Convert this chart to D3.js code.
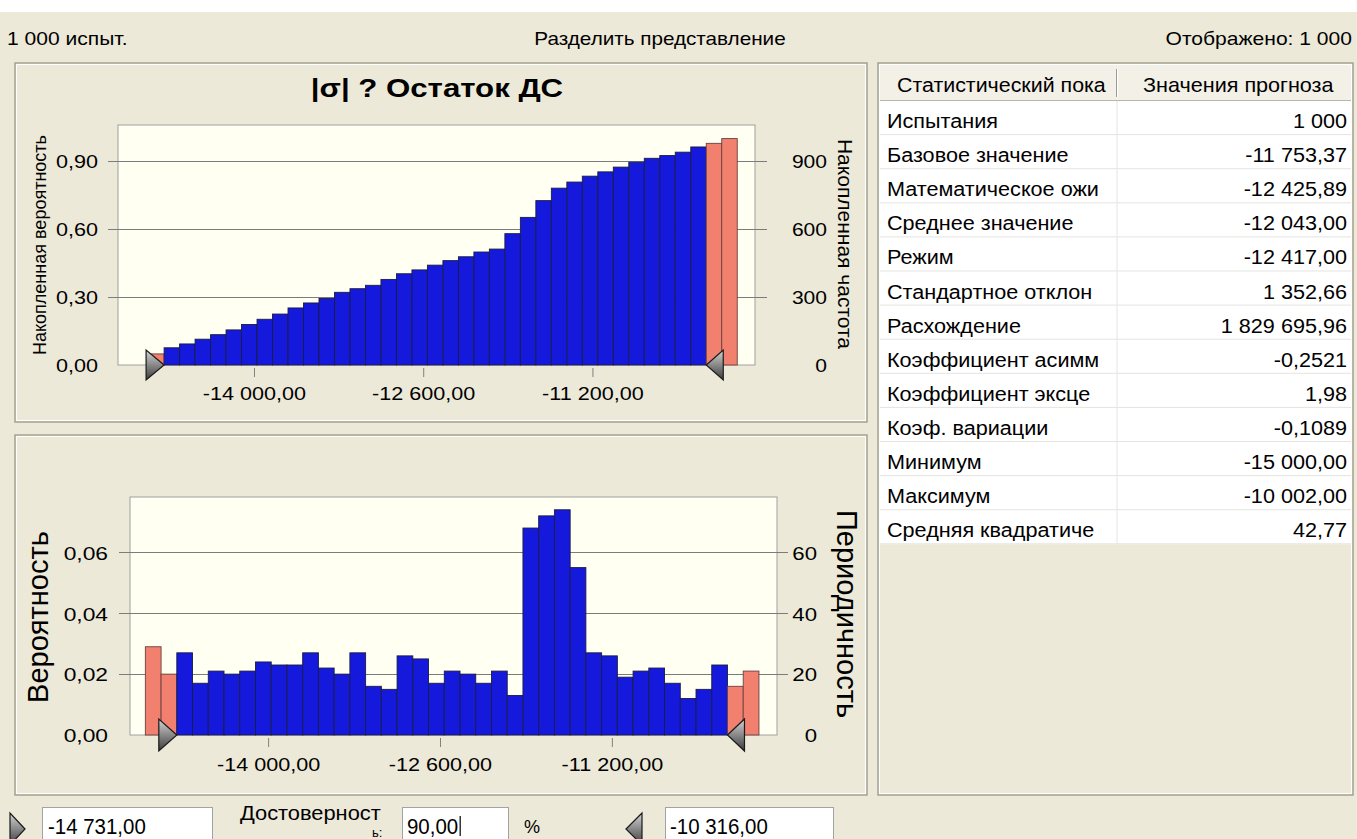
<!DOCTYPE html>
<html>
<head>
<meta charset="utf-8">
<script src="https://cdn.jsdelivr.net/npm/d3@7"></script>
<style>
    html, body { margin: 0; padding: 0; background: #ECE9D8; }
    svg { display: block; }
    text { font-family: "Liberation Sans", Arial, sans-serif; fill: #000; }
</style>
</head>
<body>
<svg id="chart" width="1357" height="839"></svg>
<script>
/*global d3*/
(function () {
    "use strict";

    // ---- data ----
    var trials = 1000;
    var valueMin = -15000,
        valueMax = -10002;
    // frequency per bin (39 bins from min to max)
    var freq = [29, 20, 27, 17, 21, 20, 21, 24, 23, 23, 27, 22, 20, 27, 16, 15, 26, 25, 17,
                21, 20, 17, 21, 13, 68, 72, 74, 55, 27, 26, 19, 21, 22, 17, 12, 15, 23, 16, 21];
    var xTicks = [-14000, -12600, -11200];
    var cumProbTicks = [0, 0.3, 0.6, 0.9];
    var cumCountTicks = [0, 300, 600, 900];
    var probTicks = [0, 0.02, 0.04, 0.06];
    var countTicks = [0, 20, 40, 60];
    var leftCut = -14731,
        rightCut = -10316,
        certainty = 90;

    var statNames = ["Испытания", "Базовое значение", "Математическое ожи", "Среднее значение",
                     "Режим", "Стандартное отклон", "Расхождение", "Коэффициент асимм",
                     "Коэффициент эксце", "Коэф. вариации", "Минимум", "Максимум",
                     "Средняя квадратиче"];
    var statValues = [1000, -11753.37, -12425.89, -12043.00, -12417.00, 1352.66, 1829695.96,
                      -0.2521, 1.98, -0.1089, -15000.00, -10002.00, 42.77];
    var statDigits = [0, 2, 2, 2, 2, 2, 2, 4, 2, 4, 2, 2, 2];

    var title = "|σ| ? Остаток ДС";

    // ---- formatting (russian number style) ----
    var ru = d3.formatLocale({decimal: ",", thousands: "\u00a0", grouping: [3], currency: ["", ""], minus: "-"});
    var fmtX = ru.format(",.2f"),
        fmtP = ru.format(".2f"),
        fmtN = ru.format(",d");

    var FONT = "'Liberation Sans', Arial, sans-serif";
    var BLUE = "#1419DC",
        RED = "#F2806E",
        PLOT_BG = "#FFFFF2",
        GRID = "#7c7c7c";

    var svg = d3.select("#chart");
    svg.append("rect").attr("width", 1357).attr("height", 839).attr("fill", "#ECE9D8");
    svg.append("rect").attr("width", 1357).attr("height", 12).attr("fill", "#ffffff");

    var defs = svg.append("defs");
    var grad = defs.append("linearGradient").attr("id", "triGrad")
        .attr("x1", 0).attr("y1", 0).attr("x2", 0).attr("y2", 1);
    grad.append("stop").attr("offset", "0%").attr("stop-color", "#d4d4d4");
    grad.append("stop").attr("offset", "100%").attr("stop-color", "#3c3c3c");

    function label(parent, x, y, str, o) {
        o = o || {};
        var tr = "translate(" + x + "," + y + ")";
        if (o.rotate) { tr += " rotate(" + o.rotate + ")"; }
        if (o.sx) { tr += " scale(" + o.sx + ",1)"; }
        return parent.append("text")
            .attr("transform", tr)
            .attr("text-anchor", o.anchor || "start")
            .style("font-size", (o.size || 18) + "px")
            .style("font-weight", o.weight || null)
            .text(str);
    }

    function frame(x, y, w, h) {
        svg.append("rect").attr("x", x).attr("y", y).attr("width", w).attr("height", h)
            .attr("fill", "none").attr("stroke", "#a5a293").attr("stroke-width", 1.5);
        svg.append("rect").attr("x", x + 1.5).attr("y", y + 1.5).attr("width", w - 3).attr("height", h - 3)
            .attr("fill", "none").attr("stroke", "#ffffff").attr("stroke-width", 1);
    }

    // triangle marker: dir 1 points right (tip on the left cut), -1 points left
    function marker(parent, tipX, baseY, dir, w, h) {
        var pts = [[tipX, baseY], [tipX - dir * w, baseY - h / 2], [tipX - dir * w, baseY + h / 2]];
        parent.append("path")
            .attr("d", "M" + pts.join("L") + "Z")
            .attr("fill", "url(#triGrad)")
            .attr("stroke", "#1a1a1a")
            .attr("stroke-width", 1.2);
    }

    function styleTicks(axisG, size) {
        axisG.attr("font-size", null).attr("font-family", null);
        axisG.selectAll(".tick text")
            .style("font-size", size + "px")
            .style("font-family", FONT)
            .attr("fill", "#000");
    }

    // ---- bins ----
    var binWidth = (valueMax - valueMin) / freq.length;
    var cum = d3.cumsum(freq);
    var leftEdge = Math.round((leftCut - valueMin) / binWidth),
        rightEdge = Math.round((rightCut - valueMin) / binWidth);
    var bins = freq.map(function (f, i) {
        return {
            i: i,
            x0: valueMin + i * binWidth,
            x1: valueMin + (i + 1) * binWidth,
            prob: f / trials,
            cumProb: cum[i] / trials,
            out: i < leftEdge || i >= rightEdge
        };
    });
    var xDomain = [-15125, -9855];

    // ---- header ----
    label(svg, 7, 45, fmtN(trials) + " испыт.", {size: 18, sx: 1.17});
    label(svg, 660, 45, "Разделить представление", {size: 18, sx: 1.15, anchor: "middle"});
    label(svg, 1352, 45, "Отображено: " + fmtN(trials), {size: 18, sx: 1.17, anchor: "end"});

    frame(15, 63, 852, 359);
    frame(15, 435, 852, 360);

    label(svg, 437, 97, title, {size: 26, sx: 1.2, anchor: "middle", weight: "bold"});

    function drawChart(c) {
        var g = svg.append("g");
        var x = d3.scaleLinear().domain(xDomain).range([c.left, c.right]);
        var y = d3.scaleLinear().domain([0, c.yMax]).range([c.bottom, c.top]);
        var y2 = d3.scaleLinear().domain([0, c.yMax * trials]).range([c.bottom, c.top]);

        g.append("rect")
            .attr("x", c.left).attr("y", c.top)
            .attr("width", c.right - c.left).attr("height", c.bottom - c.top)
            .attr("fill", PLOT_BG).attr("stroke", "#a0a0a0");

        g.selectAll("line.grid")
            .data(c.leftTicks.filter(function (d) { return d > 0; }))
            .join("line")
            .attr("class", "grid")
            .attr("x1", c.left - c.gridOut[0]).attr("x2", c.right + c.gridOut[1])
            .attr("y1", function (d) { return Math.round(y(d)) + 0.5; })
            .attr("y2", function (d) { return Math.round(y(d)) + 0.5; })
            .attr("stroke", GRID);

        g.selectAll("rect.bar")
            .data(c.bars)
            .join("rect")
            .attr("class", "bar")
            .attr("x", function (d) { return x(d.x0); })
            .attr("width", function (d) { return x(d.x1) - x(d.x0); })
            .attr("y", function (d) { return y(c.value(d)); })
            .attr("height", function (d) { return c.bottom - y(c.value(d)); })
            .attr("fill", function (d) { return d.out ? RED : BLUE; })
            .attr("stroke", function (d) { return d.out ? "#6a4040" : "#1c1c44"; })
            .attr("stroke-width", 0.9);

        // x axis
        var ax = g.append("g")
            .attr("transform", "translate(0," + c.bottom + ")")
            .call(d3.axisBottom(x).tickValues(xTicks).tickFormat(fmtX).tickSizeInner(12).tickSizeOuter(0));
        ax.select(".domain").remove();
        styleTicks(ax, 18);
        ax.selectAll(".tick line").attr("y1", 3).attr("stroke", "#808080");
        ax.selectAll(".tick text").attr("y", c.xLabelY).attr("dy", null)
            .attr("transform", "scale(1.2,1)");

        // left axis
        var al = g.append("g")
            .attr("transform", "translate(" + c.left + ",0)")
            .call(d3.axisLeft(y).tickValues(c.leftTicks).tickFormat(fmtP).tickSize(0));
        al.select(".domain").remove();
        styleTicks(al, c.tickSize);
        al.selectAll(".tick text").attr("x", 0).attr("dy", "0.36em")
            .attr("transform", "translate(" + (-c.leftPad) + ",0) scale(1.2,1)");

        // right axis
        var ar = g.append("g")
            .attr("transform", "translate(" + c.right + ",0)")
            .call(d3.axisRight(y2).tickValues(c.rightTicks).tickFormat(fmtN).tickSize(0));
        ar.select(".domain").remove();
        styleTicks(ar, c.tickSize);
        ar.selectAll(".tick text").attr("x", 0).attr("dy", "0.36em")
            .attr("text-anchor", "end")
            .attr("transform", "translate(" + c.rightPad + ",0) scale(1.17,1)");

        label(g, c.leftTitle.x, (c.top + c.bottom) / 2 + c.leftTitle.dy, c.leftTitle.text,
            {size: c.leftTitle.size, rotate: -90, anchor: "middle"});
        label(g, c.rightTitle.x, (c.top + c.bottom) / 2 + c.rightTitle.dy, c.rightTitle.text,
            {size: c.rightTitle.size, rotate: 90, anchor: "middle"});

        marker(g, x(bins[leftEdge].x0), c.bottom, 1, 18, c.markerH);
        marker(g, x(bins[rightEdge].x0), c.bottom, -1, 17, c.markerH);
    }

    // cumulative view (first bin is not drawn in this view)
    drawChart({
        left: 118, right: 755, top: 125, bottom: 365,
        yMax: 1.06,
        bars: bins.slice(1),
        value: function (d) { return d.cumProb; },
        leftTicks: cumProbTicks, rightTicks: cumCountTicks,
        gridOut: [10, 12], leftPad: 20, rightPad: 72, xLabelY: 35, markerH: 30, tickSize: 18,
        leftTitle: {text: "Накопленная вероятность", x: 46, dy: 0, size: 18},
        rightTitle: {text: "Накопленная частота", x: 838, dy: -1, size: 21}
    });

    // frequency view
    drawChart({
        left: 130, right: 777, top: 497, bottom: 735,
        yMax: 0.0782,
        bars: bins,
        value: function (d) { return d.prob; },
        leftTicks: probTicks, rightTicks: countTicks,
        gridOut: [11, 11], leftPad: 22, rightPad: 40, xLabelY: 36, markerH: 32, tickSize: 19,
        leftTitle: {text: "Вероятность", x: 48, dy: 1, size: 29},
        rightTitle: {text: "Периодичность", x: 837, dy: -2, size: 29}
    });

    // ---- statistics table ----
    var tX = 878, tY = 63, tW = 475, tH = 732;
    var colX = 1117, headH = 37, rowH = 34.1;
    frame(tX, tY, tW, tH);
    var tbl = svg.append("g");
    tbl.append("rect").attr("x", tX + 2).attr("y", tY + 2).attr("width", tW - 4).attr("height", headH - 2)
        .attr("fill", "#F3F1E7");
    tbl.append("line").attr("x1", tX + 2).attr("x2", tX + tW - 2)
        .attr("y1", tY + headH + 0.5).attr("y2", tY + headH + 0.5).attr("stroke", "#b9b6a6");
    tbl.append("line").attr("x1", colX - 0.5).attr("x2", colX - 0.5)
        .attr("y1", tY + 6).attr("y2", tY + headH - 3).attr("stroke", "#9c9a8e");
    tbl.append("line").attr("x1", colX + 0.5).attr("x2", colX + 0.5)
        .attr("y1", tY + 6).attr("y2", tY + headH - 3).attr("stroke", "#ffffff");
    label(tbl, 897, 92, "Статистический пока", {size: 20, sx: 1.07});
    label(tbl, 1143, 92, "Значения прогноза", {size: 20, sx: 1.08});

    var body0 = tY + headH + 1;
    tbl.append("rect").attr("x", tX + 2).attr("y", body0)
        .attr("width", tW - 4).attr("height", statNames.length * rowH)
        .attr("fill", "#ffffff");
    var rows = tbl.selectAll("g.row")
        .data(statNames)
        .join("g")
        .attr("class", "row")
        .attr("transform", function (d, i) { return "translate(0," + (body0 + i * rowH) + ")"; });
    rows.append("line")
        .attr("x1", tX + 2).attr("x2", tX + tW - 2)
        .attr("y1", rowH - 0.5).attr("y2", rowH - 0.5)
        .attr("stroke", "#e4e4e0");
    rows.append("line")
        .attr("x1", colX).attr("x2", colX)
        .attr("y1", 0).attr("y2", rowH)
        .attr("stroke", "#e4e4e0");
    rows.each(function (d, i) {
        var r = d3.select(this);
        label(r, 887, 27, d, {size: 21, sx: 1.03});
        label(r, 1347, 27, ru.format(",." + statDigits[i] + "f")(statValues[i]), {size: 21, sx: 1.03, anchor: "end"});
    });

    // ---- certainty controls ----
    function box(x, w) {
        svg.append("rect").attr("x", x + 0.5).attr("y", 807.5).attr("width", w).attr("height", 40)
            .attr("fill", "#ffffff").attr("stroke", "#a3a3a3");
    }
    marker(svg, 25, 829, 1, 15, 32);
    box(42, 170);
    label(svg, 48, 834, fmtX(leftCut), {size: 22, sx: 0.93});
    // tail of the wrapped "Достоверность:" label, squeezed in at the window edge
    label(svg, 372, 837, "ь:", {size: 13, sx: 1.0});
    label(svg, 240, 820, "Достоверност", {size: 21, sx: 1.04});
    box(402, 106);
    var cText = label(svg, 407, 834, fmtP(certainty), {size: 22, sx: 0.93});
    var cEnd = 407 + cText.node().getComputedTextLength() * 0.93 + 2;
    svg.append("line").attr("x1", cEnd).attr("x2", cEnd).attr("y1", 816).attr("y2", 836)
        .attr("stroke", "#000").attr("stroke-width", 1.2);
    label(svg, 524, 833, "%", {size: 19, sx: 0.95});
    marker(svg, 626, 829, -1, 16, 32);
    box(665, 168);
    label(svg, 670, 834, fmtX(rightCut), {size: 22, sx: 0.93});
}());
</script>
</body>
</html>
